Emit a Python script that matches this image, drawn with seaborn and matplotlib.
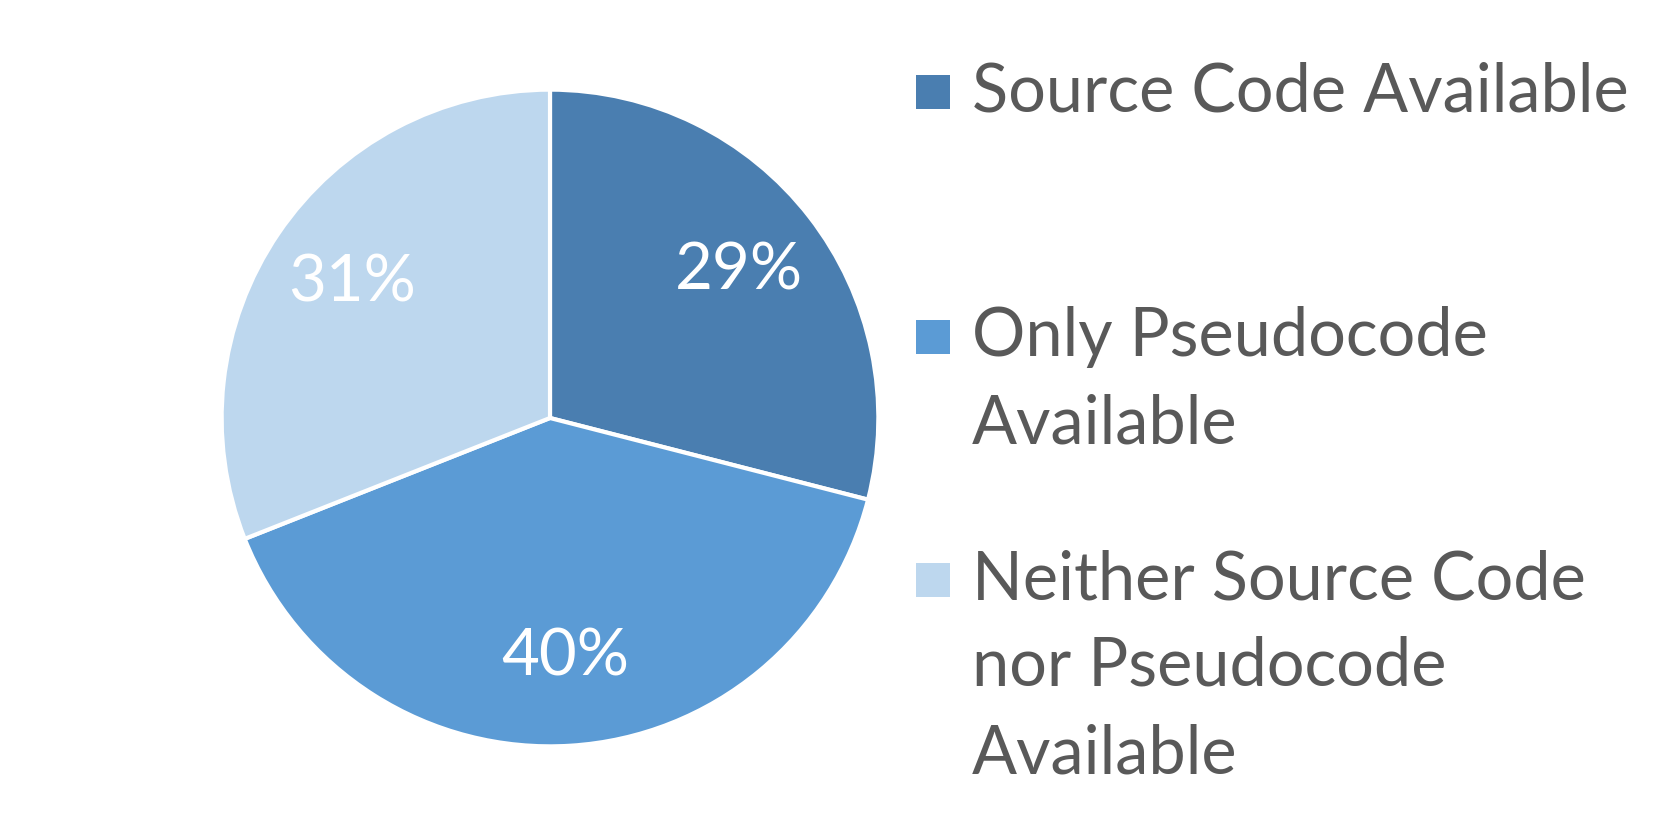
import matplotlib

matplotlib.use("Agg")
import matplotlib.pyplot as plt
from matplotlib.patches import Rectangle
import seaborn as sns

# data
labels = [
    "Source Code Available",
    "Only Pseudocode\nAvailable",
    "Neither Source Code\nnor Pseudocode\nAvailable",
]
shares = [29, 40, 31]
colors = ["#4A7EB0", "#5B9BD5", "#BDD7EE"]

sns.set_theme(style="white")
plt.rcParams["font.family"] = ["Lato", "DejaVu Sans"]

W, H = 1661, 835
fig = plt.figure(figsize=(W / 100, H / 100), dpi=100)

# pie: centre (550, 418) px, radius ~328 px
cx, cy, r = 550, 418, 330
ax = fig.add_axes([(cx - r) / W, (H - cy - r) / H, 2 * r / W, 2 * r / H])
wedges, _, autotexts = ax.pie(
    shares,
    colors=colors,
    startangle=90,
    counterclock=False,
    autopct="%d%%",
    pctdistance=0.73,
    wedgeprops=dict(edgecolor="white", linewidth=3),
    textprops=dict(color="white", fontsize=47),
)
ax.set_xlim(-1.005, 1.005)
ax.set_ylim(-1.005, 1.005)
ax.set_axis_off()

# legend drawn by hand so the square sits on the first line
text_x = 972 / W
box = 34
first_y = [92, 337, 580]
step = 87
for lab, col, y0 in zip(labels, colors, first_y):
    fig.patches.append(
        Rectangle((916 / W, (H - y0 - box / 2) / H), box / W, box / H,
                  transform=fig.transFigure, facecolor=col, edgecolor="none")
    )
    for i, line in enumerate(lab.split("\n")):
        fig.text(text_x, (H - y0 - i * step) / H, line, fontsize=48,
                 color="#595959", va="center", ha="left")

fig.savefig("out.png", dpi=100, facecolor="white")
